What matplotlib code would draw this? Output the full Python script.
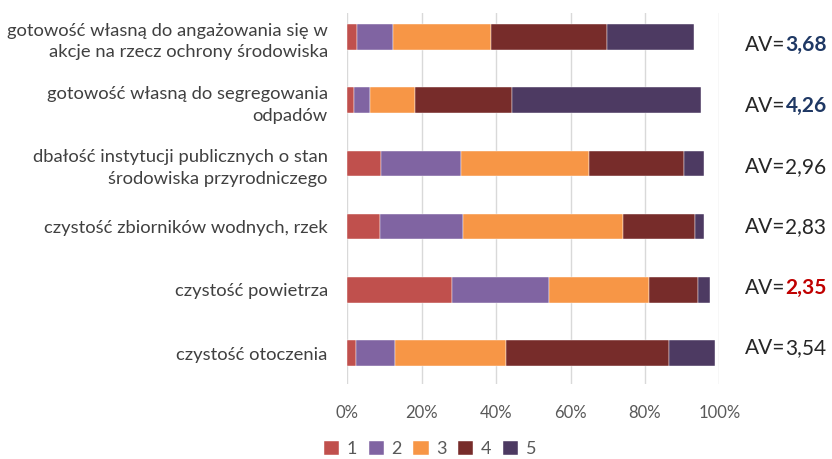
import matplotlib
matplotlib.use("Agg")
import matplotlib.pyplot as plt
import numpy as np

# Dane (w %)
kategorie = [
    "gotowość własną do angażowania się w\nakcje na rzecz ochrony środowiska",
    "gotowość własną do segregowania\nodpadów",
    "dbałość instytucji publicznych o stan\nśrodowiska przyrodniczego",
    "czystość zbiorników wodnych, rzek",
    "czystość powietrza",
    "czystość otoczenia",
]
ocena_1 = [2.7, 1.7, 9.1, 8.9, 28.1, 2.3]
ocena_2 = [9.6, 4.4, 21.5, 22.2, 26.0, 10.5]
ocena_3 = [26.4, 12.2, 34.4, 42.9, 27.1, 29.8]
ocena_4 = [31.2, 26.0, 25.5, 19.5, 13.2, 43.8]
ocena_5 = [23.3, 50.8, 5.5, 2.5, 3.0, 12.4]
srednie = ["3,68", "4,26", "2,96", "2,83", "2,35", "3,54"]
kolory_sr = ["#1F3864", "#1F3864", "#262626", "#262626", "#C00000", "#262626"]
bold_sr = [True, True, False, False, True, False]

serie = [ocena_1, ocena_2, ocena_3, ocena_4, ocena_5]
nazwy = ["1", "2", "3", "4", "5"]
kolory = ["#C0504D", "#8064A2", "#F79646", "#772C2A", "#4D3A62"]

plt.rcParams["font.family"] = ["Lato", "DejaVu Sans"]

W, H = 832, 459
fig = plt.figure(figsize=(W / 100, H / 100), dpi=100)
ax = fig.add_axes([347.3 / W, 1 - 384 / H, 372 / W, 371 / H])

y = np.arange(len(kategorie))
lewo = np.zeros(len(kategorie))
for s, n, c in zip(serie, nazwy, kolory):
    ax.barh(y, s, left=lewo, height=0.405, color=c, label=n,
            edgecolor="white", linewidth=0.3)
    lewo += np.array(s)

ax.set_xlim(0, 100)
ax.set_ylim(5.49, -0.38)
ax.set_xticks(np.arange(0, 101, 20))
ax.set_xticklabels([f"{v}%" for v in range(0, 101, 20)])
ax.set_yticks(y)
ax.set_yticklabels(kategorie, fontsize=13.2, color="#404040", linespacing=1.45)
ax.tick_params(axis="x", length=0, pad=15, labelsize=12, labelcolor="#595959")
ax.tick_params(axis="y", length=0, pad=14)
for lab in ax.get_yticklabels():
    lab.set_multialignment("right")
ax.grid(axis="x", color="#D9D9D9", linewidth=1)
ax.set_axisbelow(True)
for sp in ax.spines.values():
    sp.set_visible(False)

# etykiety średnich (pozycje w pikselach od góry)
av_y = [45, 106, 167, 227, 288, 348]
for i in range(len(kategorie)):
    t = fig.text(745 / W, 1 - av_y[i] / H, "AV=", fontsize=15,
                 color="#262626", va="center", ha="left")
    ax.annotate(srednie[i], xy=(1, 0), xycoords=t, va="bottom", ha="left",
                fontsize=15, color=kolory_sr[i],
                fontweight="bold" if bold_sr[i] else "normal")

fig.legend(loc="center", bbox_to_anchor=(430 / W, 1 - 449 / H), ncol=5,
           frameon=False, fontsize=13, handlelength=0.85, handleheight=0.85,
           handletextpad=0.4, columnspacing=0.65, labelcolor="#595959")

fig.savefig("out.png", dpi=100)
